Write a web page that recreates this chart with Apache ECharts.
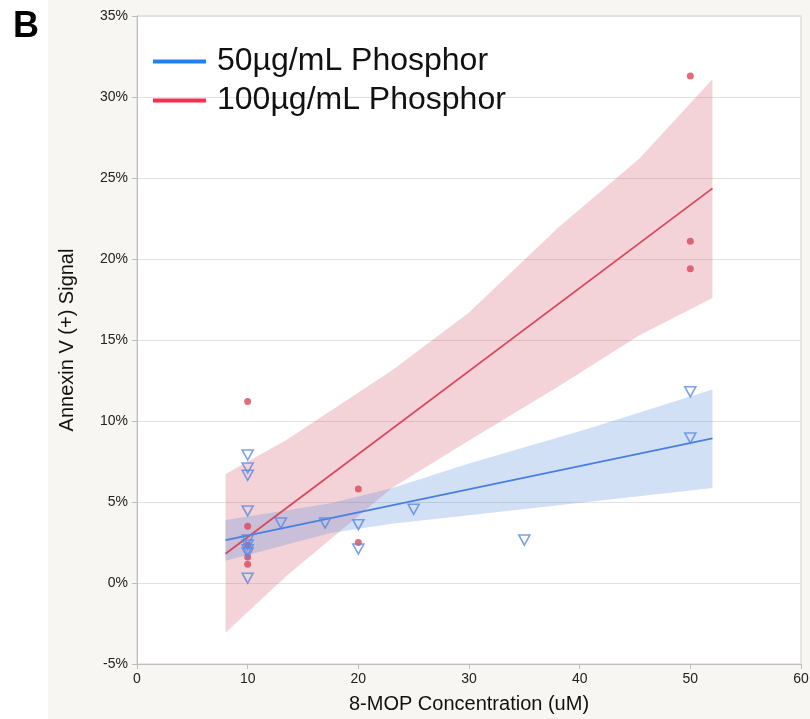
<!DOCTYPE html>
<html><head><meta charset="utf-8">
<script src="https://cdn.jsdelivr.net/npm/echarts@6/dist/echarts.min.js"></script>
<style>html,body{margin:0;padding:0;background:#fff}#c{width:810px;height:719px}</style>
</head><body><div id="c"></div>
<script>
const seriesNames = ['50µg/mL Phosphor', '100µg/mL Phosphor'];
// scatter points [x (uM), y (%)]
const pts50 = [[10,7.9],[10,7.1],[10,6.65],[10,4.45],[10,2.65],[10,2.35],[10,2.05],[10,1.85],[10,0.3],[13,3.7],[17,3.7],[20,3.6],[20,2.1],[25,4.55],[35,2.65],[50,11.8],[50,8.95]];
const pts100 = [[10,11.2],[10,3.5],[10,2.35],[10,1.6],[10,1.15],[20,5.8],[20,2.5],[50,31.3],[50,21.1],[50,19.4]];
// fitted lines
const fit50 = [[8,2.65],[52,8.93]];
const fit100 = [[8,1.81],[52,24.36]];
// confidence bands [x, lower, upper]
const band50 = [[8,1.38,3.89],[17.4,3.07,4.9],[23,3.65,5.85],[30,4.18,7.38],[40.9,5.02,9.55],[52,5.86,11.95]];
const band100 = [[8,-3.07,6.73],[13.5,0.43,8.83],[23,5.85,13.1],[30,8.8,16.7],[38,12.1,21.9],[45.4,15.3,26.2],[52,17.6,31.1]];

const chart = echarts.init(document.getElementById('c'));
const FONT = 'Liberation Sans, Arial, Helvetica, sans-serif';

function bandRender(band, fill) {
  return function (params, api) {
    if (params.dataIndex !== 0) return null;
    const up = band.map(r => api.coord([r[0], r[2]]));
    const lo = band.slice().reverse().map(r => api.coord([r[0], r[1]]));
    return { type: 'polygon', shape: { points: up.concat(lo) }, style: { fill: fill } };
  };
}

chart.setOption({
  backgroundColor: '#f7f6f3',
  animation: false,
  textStyle: { fontFamily: FONT },
  graphic: [
    { type: 'rect', left: 0, top: 0, shape: { width: 48, height: 719 }, style: { fill: '#ffffff' }, z: -10 },
    { type: 'text', left: 13, top: 9, style: { text: 'B', font: 'bold 36px ' + FONT, fill: '#000' } }
  ],
  grid: { left: 137, right: 9, top: 16, bottom: 55, outerBoundsMode: 'none', containLabel: false, show: true, backgroundColor: '#ffffff', borderColor: '#cfcfcf', borderWidth: 1 },
  legend: {
    data: [
      { name: seriesNames[0], itemStyle: { color: '#1f80f2' } },
      { name: seriesNames[1], itemStyle: { color: '#f5304e' } }
    ],
    orient: 'vertical', left: 153, top: 45, padding: 0, icon: 'rect', itemWidth: 53, itemHeight: 4, itemGap: 6,
    selectedMode: false,
    textStyle: { fontSize: 32, color: '#111', fontFamily: FONT, lineHeight: 33, padding: [0, 0, 0, 6] }
  },
  xAxis: {
    type: 'value', min: 0, max: 60, interval: 10,
    name: '8-MOP Concentration (uM)', nameLocation: 'middle', nameGap: 30, nameMoveOverlap: false,
    nameTextStyle: { fontSize: 20, color: '#111' },
    axisLine: { onZero: false, lineStyle: { color: '#bdbdbd' } },
    axisTick: { show: true, length: 5, lineStyle: { color: '#bdbdbd' } },
    axisLabel: { fontSize: 14, color: '#222', margin: 8 },
    splitLine: { show: false }
  },
  yAxis: {
    type: 'value', min: -5, max: 35, interval: 5,
    name: 'Annexin V (+) Signal', nameLocation: 'middle', nameGap: 60, nameMoveOverlap: false,
    nameTextStyle: { fontSize: 20, color: '#111' },
    axisLine: { show: true, onZero: false, lineStyle: { color: '#bdbdbd' } },
    axisTick: { show: true, length: 5, lineStyle: { color: '#bdbdbd' } },
    axisLabel: { fontSize: 14, color: '#222', margin: 9, formatter: '{value}%' },
    splitLine: { show: true, lineStyle: { color: '#e2e2e2' } }
  },
  series: [
    { type: 'custom', name: 'band100', data: band100, encode: { x: 0, y: [1, 2] }, renderItem: bandRender(band100, 'rgba(207,79,99,0.25)'), z: 1, silent: true },
    { type: 'custom', name: 'band50', data: band50, encode: { x: 0, y: [1, 2] }, renderItem: bandRender(band50, 'rgba(75,131,215,0.25)'), z: 1, silent: true },
    { type: 'line', name: seriesNames[1], data: fit100, showSymbol: false, lineStyle: { color: '#d8475a', width: 1.8 }, itemStyle: { color: '#f5304e' }, z: 3 },
    { type: 'line', name: seriesNames[0], data: fit50, showSymbol: false, lineStyle: { color: '#4a7fe0', width: 1.8 }, itemStyle: { color: '#1f80f2' }, z: 3 },
    { type: 'scatter', name: 'pts100', data: pts100, symbol: 'circle', symbolSize: 7, itemStyle: { color: '#d9485a' }, z: 4 },
    { type: 'scatter', name: 'pts50', data: pts50, symbol: 'triangle', symbolRotate: 180, symbolSize: [11, 10], itemStyle: { color: 'rgba(255,255,255,0)', borderColor: '#5a8ae2', borderWidth: 1.6 }, z: 5 }
  ]
});
</script></body></html>
